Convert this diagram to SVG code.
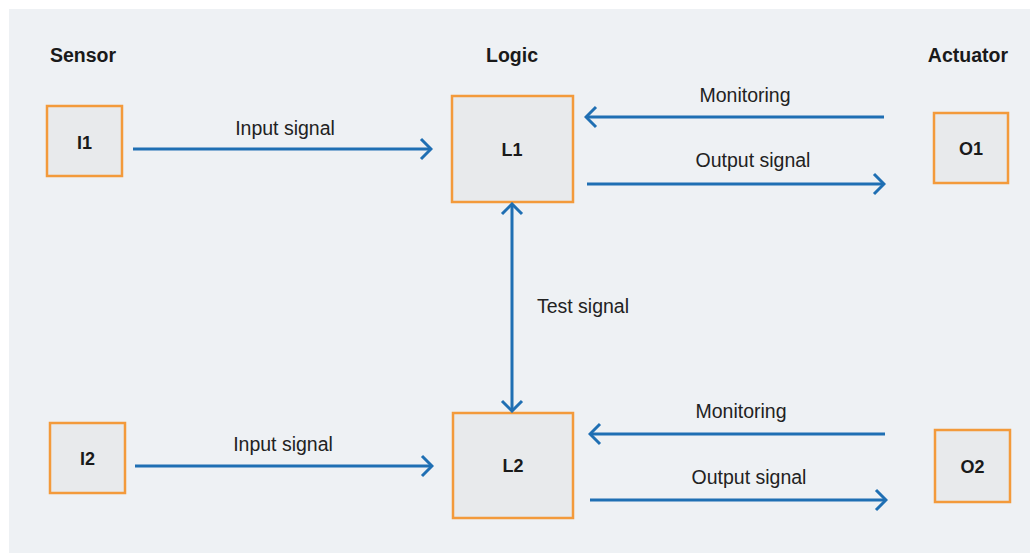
<svg xmlns="http://www.w3.org/2000/svg" width="1035" height="558" viewBox="0 0 1035 558">
<style>
.box{fill:#e8eaec;stroke:#f39a3b;stroke-width:2.5}
.nl{font-family:"Liberation Sans",Arial,sans-serif;font-weight:bold;font-size:18px;fill:#1a1a1a;text-anchor:middle}
.hd{font-family:"Liberation Sans",Arial,sans-serif;font-weight:bold;font-size:19.5px;fill:#1a1a1a}
.lb{font-family:"Liberation Sans",Arial,sans-serif;font-size:19.5px;fill:#222;text-anchor:middle}
.cn{stroke:#1f6fb3;stroke-width:3;fill:none;marker-end:url(#ah)}
</style>
<defs>
<marker id="ah" markerUnits="userSpaceOnUse" viewBox="-14 -12 16 24" refX="0" refY="0" markerWidth="16" markerHeight="24" orient="auto-start-reverse">
<path d="M-10,-10 L0,0 L-10,10" fill="none" stroke="#1f6fb3" stroke-width="3"/>
</marker>
</defs>
<rect x="0" y="0" width="1035" height="558" fill="#ffffff"/>
<rect x="9" y="9" width="1021" height="544" fill="#eef1f4"/>
<g id="headers">
<text class="hd" x="50" y="62">Sensor</text>
<text class="hd" x="512" y="62" text-anchor="middle">Logic</text>
<text class="hd" x="1008" y="62" text-anchor="end">Actuator</text>
</g>
<g id="I1"><rect class="box" x="47" y="106" width="75" height="70"/><text class="nl" x="84.5" y="149">I1</text></g>
<g id="I2"><rect class="box" x="50" y="423" width="75" height="70"/><text class="nl" x="87.5" y="465">I2</text></g>
<g id="L1"><rect class="box" x="452" y="96" width="121" height="106"/><text class="nl" x="512" y="156">L1</text></g>
<g id="L2"><rect class="box" x="453" y="413" width="120" height="105"/><text class="nl" x="513" y="472">L2</text></g>
<g id="O1"><rect class="box" x="934" y="113" width="74" height="70"/><text class="nl" x="971" y="155">O1</text></g>
<g id="O2"><rect class="box" x="935" y="430" width="75" height="72"/><text class="nl" x="972.5" y="473">O2</text></g>
<g id="connectors">
<line class="cn" x1="133" y1="149" x2="431" y2="149"/>
<line class="cn" x1="884" y1="117" x2="586" y2="117"/>
<line class="cn" x1="587" y1="184" x2="884" y2="184"/>
<line class="cn" x1="135" y1="466" x2="432" y2="466"/>
<line class="cn" x1="885" y1="434" x2="590" y2="434"/>
<line class="cn" x1="590" y1="500" x2="886" y2="500"/>
<line class="cn" x1="512" y1="204" x2="512" y2="411" style="marker-start:url(#ah)"/>
<text class="lb" x="285" y="135">Input signal</text>
<text class="lb" x="745" y="102">Monitoring</text>
<text class="lb" x="753" y="167">Output signal</text>
<text class="lb" x="283" y="451">Input signal</text>
<text class="lb" x="741" y="418">Monitoring</text>
<text class="lb" x="749" y="484">Output signal</text>
<text class="lb" x="583" y="313">Test signal</text>
</g>
</svg>
